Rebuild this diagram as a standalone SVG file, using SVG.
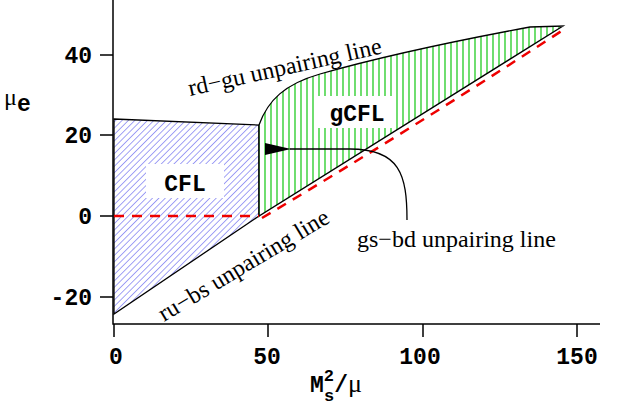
<svg xmlns="http://www.w3.org/2000/svg" width="630" height="406" viewBox="0 0 630 406">
<style>
.ax{stroke:#000;stroke-width:1.5;fill:none}
.tk{font-family:"Liberation Mono",monospace;font-weight:bold;font-size:23px}
.lb{font-family:"Liberation Serif",serif;font-size:24px}
</style>
<defs>
<pattern id="blue" width="4.5" height="4.5" patternUnits="userSpaceOnUse" patternTransform="rotate(45)">
<rect width="5" height="5" fill="#fff"/><line x1="0" y1="0" x2="0" y2="5" stroke="#5555ee" stroke-width="1.1"/></pattern>
<pattern id="green" width="6" height="6" patternUnits="userSpaceOnUse">
<rect width="6" height="6" fill="#fff"/><line x1="1" y1="0" x2="1" y2="6" stroke="#22cc22" stroke-width="1.3"/></pattern>
<marker id="ah" markerWidth="26" markerHeight="12" refX="1" refY="6" orient="auto" markerUnits="userSpaceOnUse"><path d="M26,0 L0,6 L26,12 Z" fill="#000"/></marker>
</defs>
<g id="cfl">
<path d="M114,119 L259,125 L259,216 L114,314 Z" fill="url(#blue)" stroke="#000" stroke-width="1.3"/>
<rect x="146" y="164" width="78" height="34" fill="#fff"/>
<text x="185" y="191" class="tk" font-size="26" text-anchor="middle">CFL</text>
</g>
<g id="gcfl">
<path d="M259,125 C268,100 285,84 320,74 C390,54 460,40 530,27 L563,26 L259,216 Z" fill="url(#green)" stroke="#000" stroke-width="1.3"/>
<rect x="318" y="96" width="78" height="32" fill="#fff"/>
<text x="357" y="121" class="tk" font-size="26" text-anchor="middle">gCFL</text>
</g>
<g id="connectors">
<path d="M114,216 L259,216" stroke="#e00" stroke-width="2.5" stroke-dasharray="10,8" fill="none"/>
<path d="M262,218 Q410,130 563,30" stroke="#e00" stroke-width="2.5" stroke-dasharray="10,8" fill="none"/>
<path d="M407,220 C407,175 400,149 350,149 L290,149" stroke="#000" stroke-width="1.3" fill="none" marker-end="url(#ah)"/>
</g>
<g id="axes">
<path class="ax" d="M113,0 L113,324 L600,324"/>
<path class="ax" d="M100,55 H113 M100,135 H113 M100,216 H113 M100,297 H113 M114,324 V337 M268,324 V337 M423,324 V337 M577,324 V337"/>
<text class="tk" x="92" y="63" text-anchor="end">40</text>
<text class="tk" x="92" y="143" text-anchor="end">20</text>
<text class="tk" x="92" y="224" text-anchor="end">0</text>
<text class="tk" x="92" y="305" text-anchor="end">-20</text>
<text class="tk" x="116" y="364" text-anchor="middle">0</text>
<text class="tk" x="267" y="364" text-anchor="middle">50</text>
<text class="tk" x="420" y="364" text-anchor="middle">100</text>
<text class="tk" x="577" y="364" text-anchor="middle">150</text>
<text x="310" y="392" class="tk">M<tspan font-size="17" dy="-11">2</tspan><tspan font-size="17" dx="-10" dy="20">s</tspan><tspan dy="-9">/</tspan><tspan font-family="Liberation Serif" font-weight="normal" font-size="26">μ</tspan></text>
<text x="4" y="105" class="lb" font-size="28">μ<tspan class="tk" font-size="20" dy="6">e</tspan></text>
</g>
<g id="labels">
<text class="lb" font-size="25" transform="translate(190,96) rotate(-12.5)">rd−gu unpairing line</text>
<text class="lb" x="357" y="247">gs−bd unpairing line</text>
<text class="lb" transform="translate(164,322) rotate(-31)">ru−bs unpairing line</text>
</g>
</svg>
